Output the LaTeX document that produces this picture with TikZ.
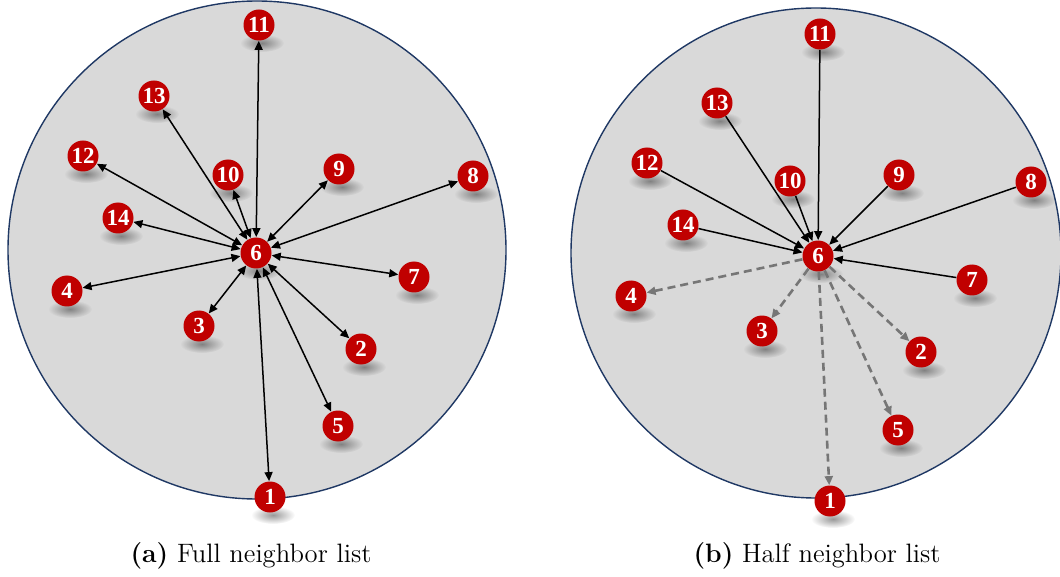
\documentclass[tikz,border=0pt]{standalone}
\usepackage{fontspec}
\newfontfamily\numfont{Liberation Serif}
\usetikzlibrary{arrows.meta,fadings}
\definecolor{bgfill}{RGB}{217,217,217}
\definecolor{rimcol}{RGB}{31,56,100}
\definecolor{nodered}{RGB}{192,0,0}
\definecolor{dashgray}{RGB}{118,118,118}
\tikzfading[name=softblob, inner color=transparent!0, outer color=transparent!100]
\tikzset{
  region/.style={draw=rimcol,line width=0.7pt,fill=bgfill},
  atom/.style={circle,fill=nodered,inner sep=0pt,minimum size=15.5pt,text=white,font=\numfont\bfseries\fontsize{11.5}{12}\selectfont},
  shadowblob/.style={fill=black,opacity=0.4,path fading=softblob},
  full/.style={line width=0.75pt,{Triangle[length=4.5pt,width=4pt]}-{Triangle[length=4.5pt,width=4pt]}},
  solidin/.style={line width=0.75pt,-{Triangle[length=4.5pt,width=4pt]}},
  dashout/.style={draw=dashgray,line width=1.3pt,dash pattern=on 4pt off 2.5pt,-{Triangle[length=4.5pt,width=4pt]},dashgray},
  caption/.style={font=\fontsize{13.3}{15}\selectfont}
}
\newcommand\myatom[4]{%
  \fill[shadowblob,shift={(#2,#3)}] (3,18) ellipse (22 and 9);
  \node[atom] (#1) at (#2,#3) {#4};}
\begin{document}
\begin{tikzpicture}[x=0.5pt,y=-0.5pt]
\useasboundingbox (0,0) rectangle (1060,577);
% regions
\draw[region] (257,250) circle (249);
\draw[region] (816,253) circle (245);
% left atoms
\myatom{a11}{259}{25}{11}
\myatom{a13}{154}{96}{13}
\myatom{a12}{83}{156}{12}
\myatom{a10}{228}{175}{10}
\myatom{a9}{339}{169}{9}
\myatom{a8}{473}{176}{8}
\myatom{a14}{118}{218}{14}
\myatom{a7}{414}{277}{7}
\myatom{a4}{67}{291}{4}
\myatom{a3}{199}{326}{3}
\myatom{a2}{361}{349}{2}
\myatom{a5}{338}{426}{5}
\myatom{a1}{270}{497}{1}
\myatom{a6}{256}{253}{6}
% right atoms
\myatom{b11}{820}{34}{11}
\myatom{b13}{717}{103}{13}
\myatom{b12}{647}{163}{12}
\myatom{b10}{790}{181}{10}
\myatom{b9}{899}{175}{9}
\myatom{b8}{1031}{182}{8}
\myatom{b14}{683}{225}{14}
\myatom{b7}{972}{280}{7}
\myatom{b4}{631}{296}{4}
\myatom{b3}{762}{331}{3}
\myatom{b2}{921}{352}{2}
\myatom{b5}{898}{430}{5}
\myatom{b1}{830}{501}{1}
\myatom{b6}{818}{256}{6}
% full list connectors
\foreach \n in {11,13,12,10,9,8,14,7,4,3,2,5,1}
  \draw[full] (a6) -- (a\n);
% half list connectors
\foreach \n in {11,13,12,10,9,8,14,7}
  \draw[solidin] (b\n) -- (b6);
\foreach \n in {4,3,2,5,1}
  \draw[dashout] (b6) -- (b\n);
% captions
\node[caption] (capa) at (251,556) {\textbf{(a)} Full neighbor list};
\node[caption] (capb) at (817,556) {\textbf{(b)} Half neighbor list};
\end{tikzpicture}
\end{document}
